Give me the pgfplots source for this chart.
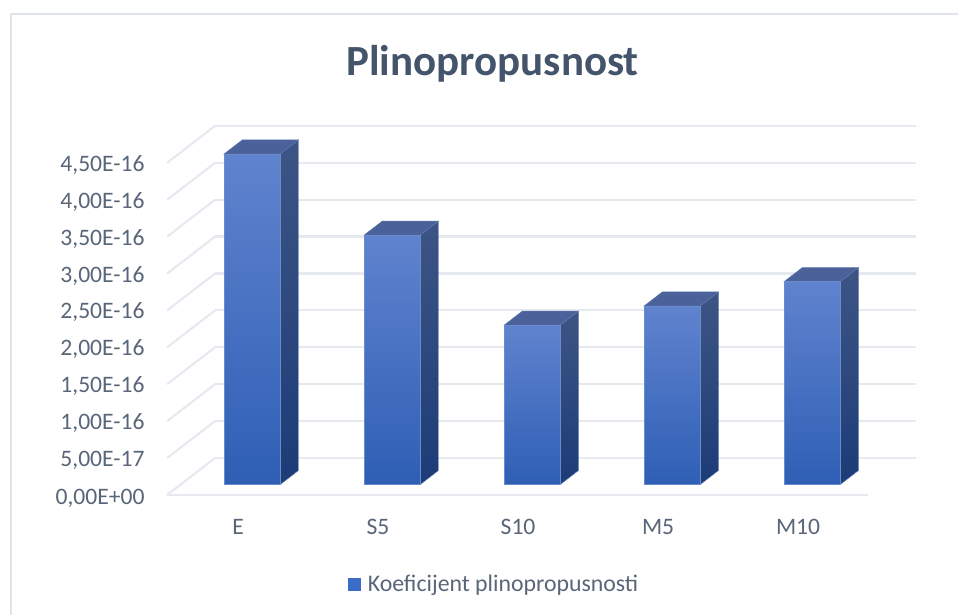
\documentclass[border=0pt]{standalone}
\usepackage{pgfplots}
\pgfplotsset{compat=1.18}
\usepackage{fontspec}
\setmainfont{Carlito}
\definecolor{gridc}{HTML}{E6E9F0}
\definecolor{framec}{HTML}{DFE3EC}
\definecolor{txt}{HTML}{596679}
\definecolor{titlec}{HTML}{44546A}
\definecolor{ftop}{HTML}{6083CE}
\definecolor{fmid}{HTML}{3A6CC8}
\definecolor{fbot}{HTML}{2E5FB5}
\definecolor{stop}{HTML}{3D5584}
\definecolor{sbot}{HTML}{1C3C77}
\definecolor{ttop}{HTML}{4A6299}
\definecolor{edgec}{HTML}{7F9AD2}
% one bar: category index, value (in units of 1e-16)
\newcommand{\barthreed}[2]{%
  \addplot3[draw=edgec!40!stop,line width=0.5pt,top color=stop,bottom color=sbot,shading angle=0,forget plot]
    coordinates {(#1+0.2,0.28,0)(#1+0.2,0.66,0)(#1+0.2,0.66,#2)(#1+0.2,0.28,#2)(#1+0.2,0.28,0)} -- cycle;
  \addplot3[draw=edgec!40!ttop,line width=0.5pt,fill=ttop,forget plot]
    coordinates {(#1-0.2,0.28,#2)(#1+0.2,0.28,#2)(#1+0.2,0.66,#2)(#1-0.2,0.66,#2)(#1-0.2,0.28,#2)} -- cycle;
  \addplot3[draw=edgec!70!fmid,line width=0.6pt,top color=ftop,middle color=fmid,bottom color=fbot,forget plot]
    coordinates {(#1-0.2,0.28,0)(#1+0.2,0.28,0)(#1+0.2,0.28,#2)(#1-0.2,0.28,#2)(#1-0.2,0.28,0)} -- cycle;
}
\begin{document}
\begin{tikzpicture}
% page: x = px - 238.6, y = 495 - py
\path[use as bounding box] (-238.6pt,-120pt) rectangle (719.4pt,495pt);
\draw[framec,line width=2pt] (-227.6pt,-120pt) -- (-227.6pt,481pt) -- (719.4pt,481pt);
\begin{axis}[
  at={(0pt,0pt)},anchor=origin,
  x={(140pt,0pt)},y={(48pt,37pt)},z={(0pt,73.8pt)},
  xmin=-0.511,xmax=4.496,ymin=0,ymax=1,zmin=0,zmax=4.5,
  clip=false,
  axis line style={draw=none},
  major tick length=0pt,
  xtick={0,1,2,3,4},xticklabels={E,S5,S10,M5,M10},
  ytick=\empty,
  ztick={0,0.5,1,1.5,2,2.5,3,3.5,4,4.5},
  zticklabels={{0,00E+00},{5,00E-17},{1,00E-16},{1,50E-16},{2,00E-16},{2,50E-16},{3,00E-16},{3,50E-16},{4,00E-16},{4,50E-16}},
  xmajorgrids=false,ymajorgrids=false,zmajorgrids=true,
  major grid style={draw=gridc,line width=2.2pt},
  tick label style={font=\fontsize{23.6}{26}\selectfont,text=txt},
  xticklabel style={yshift=-21pt,xshift=5pt},
  zticklabel style={xshift=-19pt,yshift=13.5pt},
]
\addplot3[gridc,line width=2.4pt,forget plot] coordinates {(-0.511,0,0)(4.496,0,0)};
\barthreed{0}{4.48}
\barthreed{1}{3.38}
\barthreed{2}{2.16}
\barthreed{3}{2.42}
\barthreed{4}{2.75}
\end{axis}
\node[font=\fontsize{43}{46}\selectfont\bfseries,text=titlec] at (254pt,431pt) {Plinopropusnost};
\fill[fmid] (109.4pt,-96pt) rectangle (122.4pt,-83pt);
\node[anchor=west,inner sep=0pt,font=\fontsize{23.8}{26}\selectfont,text=txt] at (129pt,-90pt) {Koeficijent plinopropusnosti};
\end{tikzpicture}
\end{document}
